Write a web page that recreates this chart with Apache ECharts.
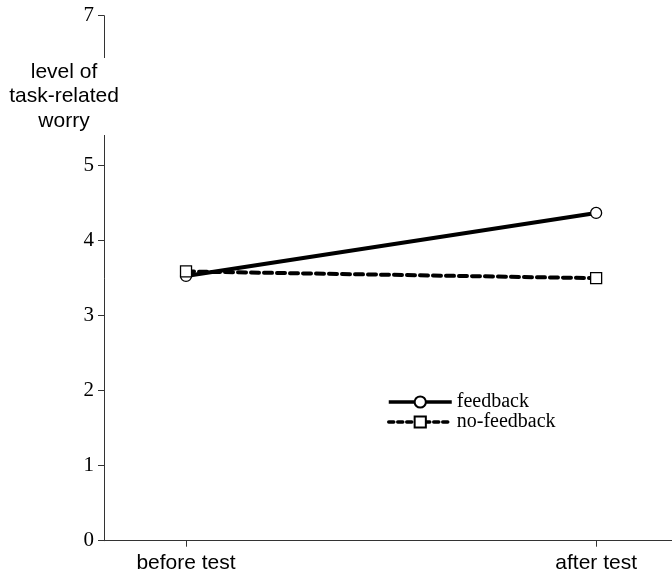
<!DOCTYPE html>
<html>
<head>
<meta charset="utf-8">
<script src="https://cdn.jsdelivr.net/npm/echarts@6/dist/echarts.min.js"></script>
<style>html,body{margin:0;padding:0;background:#fff}#c{width:672px;height:575px}</style>
</head>
<body>
<div id="c"></div>
<script>
var categories = ['before test', 'after test'];
var feedback = [3.53, 4.37];
var noFeedback = [3.59, 3.50];
var yTicks = [0, 1, 2, 3, 4, 5, 7];
var seriesNames = ['feedback', 'no-feedback'];
var yTitle = 'level of\ntask-related\nworry';

var chart = echarts.init(document.getElementById('c'), null, {renderer: 'canvas'});
function pts(arr) { return arr.map(function (v, i) { return [i, v]; }); }
var serif = '"Liberation Serif", "Times New Roman", serif';
var sans = '"Liberation Sans", Arial, sans-serif';
var option = {
  backgroundColor: '#fff',
  animation: false,
  grid: {left: 104, right: 0, top: 15.7, bottom: 34.3},
  xAxis: {
    type: 'value', min: -0.2, max: 1.185,
    splitLine: {show: false},
    axisLine: {show: true, onZero: false, lineStyle: {color: '#333', width: 1}},
    axisTick: {show: true, length: 6, lineStyle: {color: '#333'}, customValues: [0, 1]},
    axisLabel: {
      customValues: [0, 1], margin: 12,
      color: '#000', fontFamily: sans, fontSize: 21,
      formatter: function (v) { return categories[Math.round(v)] || ''; }
    }
  },
  yAxis: {
    type: 'value', min: 0, max: 7, interval: 1,
    splitLine: {show: false},
    axisLine: {show: true, onZero: false, lineStyle: {color: '#333', width: 1}},
    axisTick: {show: true, length: 6, lineStyle: {color: '#333'}},
    axisLabel: {
      margin: 10, color: '#000', fontFamily: serif, fontSize: 21,
      formatter: function (v) { return yTicks.indexOf(v) >= 0 ? String(v) : ''; }
    }
  },
  legend: {
    orient: 'vertical', left: 387, top: 392, padding: 0,
    itemWidth: 63, itemHeight: 14, itemGap: 0,
    textStyle: {fontFamily: serif, fontSize: 20, lineHeight: 19.5, color: '#000', padding: [0, 0, 0, 0]},
    data: [
      {name: seriesNames[0], lineStyle: {width: 3.5}},
      {name: seriesNames[1], lineStyle: {width: 3.5, type: [5, 4]}}
    ]
  },
  series: [
    {
      name: seriesNames[0], type: 'line', data: pts(feedback),
      symbol: 'circle', symbolSize: 11,
      lineStyle: {color: '#000', width: 4},
      itemStyle: {color: '#fff', borderColor: '#000', borderWidth: 1.3}
    },
    {
      name: seriesNames[1], type: 'line', data: pts(noFeedback),
      symbol: 'rect', symbolSize: 11,
      lineStyle: {color: '#000', width: 4, type: [8, 5], cap: 'round'},
      itemStyle: {color: '#fff', borderColor: '#000', borderWidth: 1.3}
    }
  ],
  graphic: [
    {type: 'rect', z: 100, shape: {x: 0, y: 58, width: 125, height: 77}, style: {fill: '#fff'}},
    {type: 'text', z: 101, x: 64, y: 96.5,
     style: {text: yTitle, font: '21px ' + sans, fill: '#000', align: 'center', verticalAlign: 'middle', lineHeight: 24.5}}
  ]
};
chart.setOption(option);
</script>
</body>
</html>
